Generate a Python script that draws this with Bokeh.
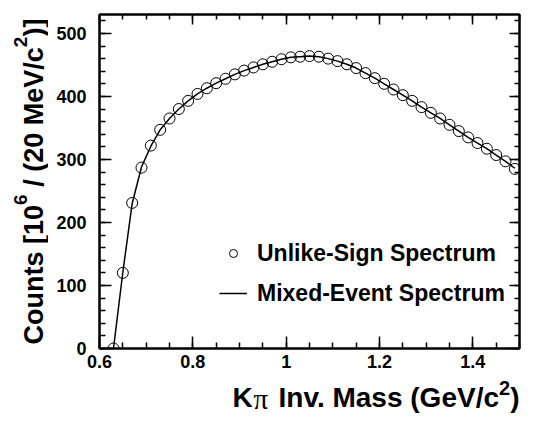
from bokeh.plotting import figure
from bokeh.layouts import column, row
from bokeh.models import FixedTicker, LinearAxis, Label, Legend, LegendItem, Range1d
from bokeh.embed import file_html
from bokeh.resources import INLINE
import math

# ---- data ----
mass = [0.63, 0.65, 0.67, 0.69, 0.71, 0.73, 0.75, 0.77, 0.79, 0.81, 0.83,
        0.85, 0.87, 0.89, 0.91, 0.93, 0.95, 0.97, 0.99, 1.01, 1.03, 1.05,
        1.07, 1.09, 1.11, 1.13, 1.15, 1.17, 1.19, 1.21, 1.23, 1.25, 1.27,
        1.29, 1.31, 1.33, 1.35, 1.37, 1.39, 1.41, 1.43, 1.45, 1.47, 1.49]
unlike_sign = [0, 120, 231, 287, 322, 347, 365, 380, 393, 404, 413,
               421, 428, 435, 441, 446, 451, 455, 459, 462, 463, 464,
               463, 460, 456, 451, 445, 437, 429, 420, 411, 402, 393,
               383, 374, 365, 355, 345, 335, 326, 317, 307, 297, 285]
mixed_event = [0, 121, 230, 288, 321, 347, 365, 380, 393, 404, 413,
               421, 428, 435, 441, 446, 451, 455, 459, 462, 463, 464,
               463, 460, 456, 451, 445, 437, 429, 420, 411, 402, 393,
               383, 374, 365, 355, 345, 335, 326, 317, 307, 297, 286]

x_ticks = [0.6, 0.8, 1.0, 1.2, 1.4]
x_tick_labels = ["0.6", "0.8", "1", "1.2", "1.4"]
x_minor = [0.6, 0.65, 0.7, 0.75, 0.8, 0.85, 0.9, 0.95, 1.0, 1.05, 1.1,
           1.15, 1.2, 1.25, 1.3, 1.35, 1.4, 1.45, 1.5]
y_ticks = [0, 100, 200, 300, 400, 500]
y_minor = [0, 20, 40, 60, 80, 100, 120, 140, 160, 180, 200, 220, 240, 260,
           280, 300, 320, 340, 360, 380, 400, 420, 440, 460, 480, 500, 520]

FONT = "Liberation Sans"

# geometry: total 521 x 413
LEFT_W = 48
MAIN_W = 521 - LEFT_W
TOP_H = 375
BOT_H = 413 - TOP_H
FRAME_TOP = 14
FRAME_BOTTOM = 348

p = figure(width=MAIN_W, height=TOP_H, x_range=Range1d(0.6, 1.5), y_range=Range1d(0, 530),
           output_backend="svg", toolbar_location=None,
           min_border_left=51, min_border_right=2, min_border_top=FRAME_TOP,
           min_border_bottom=TOP_H - FRAME_BOTTOM)
p.xgrid.visible = False
p.ygrid.visible = False
p.outline_line_color = "black"
p.outline_line_width = 2

xt = FixedTicker(ticks=x_ticks, minor_ticks=x_minor)
yt = FixedTicker(ticks=y_ticks, minor_ticks=y_minor)


def style_axis(ax, ticker, show_labels):
    ax.ticker = ticker
    ax.axis_line_color = "black"
    ax.axis_line_width = 2
    ax.major_tick_line_color = "black"
    ax.minor_tick_line_color = "black"
    ax.major_tick_line_width = 1.5
    ax.minor_tick_line_width = 1.5
    ax.major_tick_in = 12
    ax.major_tick_out = 0
    ax.minor_tick_in = 6
    ax.minor_tick_out = 0
    if show_labels:
        ax.major_label_text_font = FONT
        ax.major_label_text_font_style = "bold"
        ax.major_label_text_font_size = "18px"
        ax.major_label_text_color = "black"
    else:
        ax.major_label_overrides = {t: "" for t in ticker.ticks}
        ax.major_label_text_font_size = "1px"
        ax.major_label_standoff = 0


style_axis(p.xaxis[0], xt, True)
p.xaxis[0].major_label_standoff = 6
p.xaxis[0].major_label_overrides = {t: s for t, s in zip(x_ticks, x_tick_labels)}
style_axis(p.yaxis[0], yt, True)
p.yaxis[0].major_label_standoff = 13

top_ax = LinearAxis()
style_axis(top_ax, xt, False)
top_ax.major_tick_in = 10
top_ax.minor_tick_in = 5
p.add_layout(top_ax, "above")
right_ax = LinearAxis()
style_axis(right_ax, yt, False)
right_ax.major_tick_in = 10
right_ax.minor_tick_in = 5
p.add_layout(right_ax, "right")

r_line = p.line(mass, mixed_event, line_color="black", line_width=1.5)
r_pts = p.scatter(mass, unlike_sign, marker="circle", size=11, fill_color=None,
                  line_color="black", line_width=1)

legend = Legend(items=[LegendItem(label="Unlike-Sign Spectrum", renderers=[r_pts]),
                       LegendItem(label="Mixed-Event Spectrum", renderers=[r_line])],
                location=(120, 40), padding=0, margin=0, spacing=10,
                glyph_width=28, glyph_height=20, label_height=30, label_standoff=10,
                label_text_font=FONT, label_text_font_style="bold",
                label_text_font_size="23px", label_text_color="black",
                background_fill_alpha=0, border_line_alpha=0)
p.add_layout(legend)


def text_panel(w, h):
    f = figure(width=w, height=h, x_range=Range1d(0, 1), y_range=Range1d(0, 1),
               output_backend="svg", toolbar_location=None, min_border=0,
               x_axis_location=None, y_axis_location=None)
    f.outline_line_color = None
    f.grid.visible = False
    return f


left = text_panel(LEFT_W, TOP_H)
bottom = text_panel(LEFT_W + MAIN_W, BOT_H)


def lab(fig, oy_bottom, text, X, Y, size, angle=0.0, align="center",
        font=FONT, style="bold"):
    fig.add_layout(Label(x=X, y=oy_bottom - Y, x_units="screen", y_units="screen",
                         text=text, text_font=font, text_font_style=style,
                         text_font_size=f"{size}px", text_align=align,
                         text_baseline="middle", angle=angle, text_color="black"))


NB = "\u00a0"  # non-breaking space (SVG collapses a leading normal space)

# y-axis title: Counts [10^6 / (20 MeV/c^2)] -- pieces placed at their centres.
# The left panel's frame is aligned with the main frame (y 14..348).
A = math.pi / 2
lab(left, FRAME_BOTTOM, "Counts [10", 33, 274.2, 27, A)
lab(left, FRAME_BOTTOM, "6", 20, 199.1, 19, A)
lab(left, FRAME_BOTTOM, NB + "/ (20 MeV/c", 33, 120.3, 27, A)
lab(left, FRAME_BOTTOM, "2", 20, 41.4, 19, A)
lab(left, FRAME_BOTTOM, ")]", 33, 27.1, 27, A)

# x-axis title: Kπ Inv. Mass (GeV/c^2)   (bottom panel: y TOP_H..413)
lab(bottom, 413, "K", 232, 397, 28, align="left")
lab(bottom, 413, "\u03c0", 253, 398, 29, align="left", font="Liberation Serif", style="normal")
lab(bottom, 413, ")", 519, 397, 28, align="right")
lab(bottom, 413, "2", 509.5, 387, 20, align="right")
lab(bottom, 413, "Inv. Mass (GeV/c", 498.5, 397, 28, align="right")

layout = column(row(left, p, spacing=0), bottom, spacing=0)

open("out.html", "w").write(file_html(layout, INLINE))
